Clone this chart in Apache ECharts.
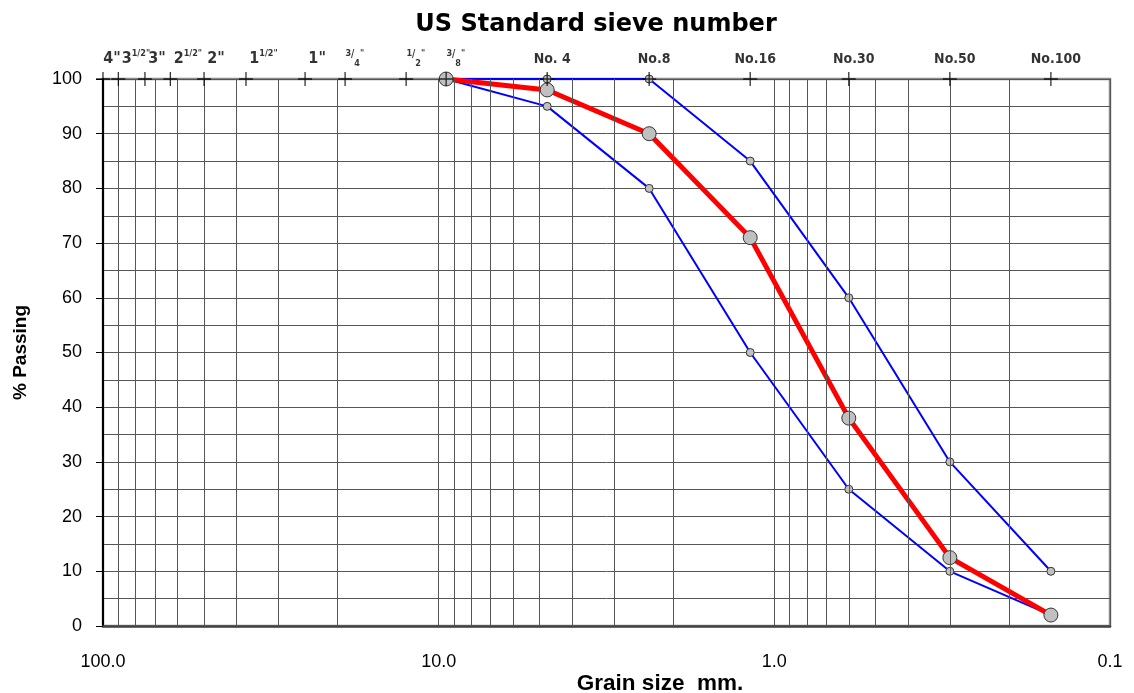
<!DOCTYPE html>
<html>
<head>
<meta charset="utf-8">
<script src="https://cdn.jsdelivr.net/npm/echarts@6/dist/echarts.min.js"></script>
<style>
html,body{margin:0;padding:0;background:#fff;}
#chart{width:1134px;height:693px;}
</style>
</head>
<body>
<div id="chart"></div>
<script>
// ---- data ----
const grainSizes = [9.5, 4.75, 2.36, 1.18, 0.6, 0.3, 0.15];
const passing    = [100, 98, 90, 71, 38, 12.5, 2];
const upperLimit = [100, 100, 100, 85, 60, 30, 10];
const lowerLimit = [100, 95, 80, 50, 25, 10, 2];

const sieveLabels = ['4"', '3 1/2"', '3"', '2 1/2"', '2"', '1 1/2"', '1"', '3/4"', '1/2"', '3/8"',
                     'No. 4', 'No.8', 'No.16', 'No.30', 'No.50', 'No.100'];
const sieveSizes  = [100, 90, 75, 63, 50, 37.5, 25, 19, 12.5, 9.5, 4.75, 2.36, 1.18, 0.6, 0.3, 0.15];

const minorGridX = [90, 80, 70, 60, 50, 40, 30, 20, 9, 8, 7, 6, 5, 4, 3, 2, 0.9, 0.8, 0.7, 0.6, 0.5, 0.4, 0.3, 0.2];
const xTickLabels = [100, 10, 1, 0.1];
const yTicks = [0, 10, 20, 30, 40, 50, 60, 70, 80, 90, 100];

// ---- helpers ----
const SANS = "'Liberation Sans', Arial, sans-serif";
const NARROW = "'Liberation Sans Narrow','DejaVu Sans Condensed','Liberation Sans',sans-serif";
function richText(t) {
  let m;
  if ((m = t.match(/^(\d) (\d)\/(\d)"$/))) return '{h| }{bi|' + m[1] + '}{s|' + m[2] + '/' + m[3] + '"}';
  if ((m = t.match(/^(\d)\/(\d)"$/))) return '{h| }{s|' + m[1] + '}{sl|/}{d|' + m[2] + '}{s|"}';
  if ((m = t.match(/^(\d)"$/))) return '{h| }{bi|' + t + '}';
  return '{b|' + t + '}';
}
const isNo = t => t.indexOf('No') === 0;
function labelOffset(t, i) {
  if (isNo(t)) return [5, 1];
  if (t.indexOf('/') >= 0 && t.indexOf(' ') < 0) return [0, 1];
  return i === 0 ? [0, 1] : [3, 1];
}

const chart = echarts.init(document.getElementById('chart'), null, {renderer: 'canvas'});

const markerStyle = {color: '#c0c0c0', borderColor: '#333', borderWidth: 1};

const option = {
  animation: false,
  backgroundColor: '#fff',
  title: [
    {text: 'US Standard sieve number', left: 591, top: 8, textAlign: 'center',
     textStyle: {fontFamily: "'DejaVu Sans', sans-serif", fontSize: 24, fontWeight: 'bold', color: '#000'}},
    {text: 'Grain size  mm.', left: 655, top: 667, textAlign: 'center',
     textStyle: {fontFamily: SANS, fontSize: 22.5, fontWeight: 'bold', color: '#000'}}
  ],
  grid: {left: 103, right: 24, top: 79, bottom: 67, show: true, borderColor: '#8a8a8a', borderWidth: 2.5, backgroundColor: '#fff'},
  xAxis: {
    type: 'log', logBase: 10, min: 0.1, max: 100, inverse: true,
    axisLine: {show: true, onZero: false, lineStyle: {color: '#444', width: 2.5}},
    axisTick: {show: false},
    axisLabel: {
      show: true, margin: 27, color: '#000', fontSize: 18,
      fontFamily: SANS,
      showMinLabel: true, showMaxLabel: true,
      formatter: v => (xTickLabels.some(t => Math.abs(t - v) < 1e-9) ? Number(v).toFixed(1) : '')
    },
    splitLine: {show: true, lineStyle: {color: '#555', width: 1}},
    minorTick: {show: false}, minorSplitLine: {show: false}
  },
  yAxis: {
    type: 'value', min: 0, max: 100, interval: 10,
    name: '% Passing', nameLocation: 'middle', nameGap: 73, nameRotate: 90,
    nameTextStyle: {fontFamily: SANS, fontSize: 19, fontWeight: 'bold', color: '#000'},
    axisLine: {show: true, lineStyle: {color: '#000', width: 2}},
    axisTick: {show: true, inside: false, length: 7, lineStyle: {color: '#000', width: 1}},
    axisLabel: {margin: 21, color: '#000', fontSize: 18, fontFamily: SANS,
      formatter: v => (yTicks.indexOf(v) >= 0 ? String(v) : '')},
    splitLine: {show: true, lineStyle: {color: '#555', width: 1}},
    minorTick: {show: false, splitNumber: 2},
    minorSplitLine: {show: true, lineStyle: {color: '#555', width: 1}}
  },
  series: [
    {
      type: 'line', name: 'grid', data: [], silent: true,
      markLine: {
        silent: true, symbol: ['none', 'none'], animation: false,
        label: {show: false},
        lineStyle: {color: '#555', width: 1, type: 'solid'},
        data: minorGridX.map(v => ({xAxis: v}))
      }
    },
    {
      type: 'line', name: 'Upper limit', z: 3,
      data: grainSizes.map((x, i) => [x, upperLimit[i]]),
      lineStyle: {color: '#0000ff', width: 2},
      symbol: 'circle', symbolSize: 8, itemStyle: markerStyle
    },
    {
      type: 'line', name: 'Lower limit', z: 3,
      data: grainSizes.map((x, i) => [x, lowerLimit[i]]),
      lineStyle: {color: '#0000ff', width: 2},
      symbol: 'circle', symbolSize: 8, itemStyle: markerStyle
    },
    {
      type: 'line', name: 'Sample', z: 4,
      data: grainSizes.map((x, i) => [x, passing[i]]),
      lineStyle: {color: '#ff0000', width: 5},
      symbol: 'circle', symbolSize: 14, itemStyle: markerStyle
    },
    {
      type: 'scatter', name: 'Sieves', z: 6, clip: false, silent: true,
      symbol: 'path://M0,7H14M7,0V14', symbolSize: 14, symbolKeepAspect: true,
      itemStyle: {color: 'none', borderColor: '#000', borderWidth: 1.3},
      data: sieveSizes.map((x, i) => ({
        value: [x, 100],
        label: {
          show: true, position: 'top', distance: isNo(sieveLabels[i]) ? 3 : 2,
          formatter: richText(sieveLabels[i]),
          align: isNo(sieveLabels[i]) ? 'center' : 'left',
          offset: labelOffset(sieveLabels[i], i)
        }
      })),
      label: {
        color: '#000',
        rich: {
          h: {fontSize: 1, lineHeight: 19},
          b: {fontFamily: NARROW, fontSize: 14, fontWeight: 'bold', color: '#000', lineHeight: 17},
          bi: {fontFamily: NARROW, fontSize: 16, fontWeight: 'bold', color: '#000', lineHeight: 19},
          s: {fontFamily: NARROW, fontSize: 9, fontWeight: 'bold', color: '#000', lineHeight: 11, verticalAlign: 'top'},
          sl: {fontFamily: NARROW, fontSize: 10, fontWeight: 'bold', color: '#000', lineHeight: 15, verticalAlign: 'top'},
          d: {fontFamily: NARROW, fontSize: 9, fontWeight: 'bold', color: '#000', lineHeight: 11, verticalAlign: 'bottom'}
        }
      }
    }
  ]
};
chart.setOption(option);
</script>
</body>
</html>
